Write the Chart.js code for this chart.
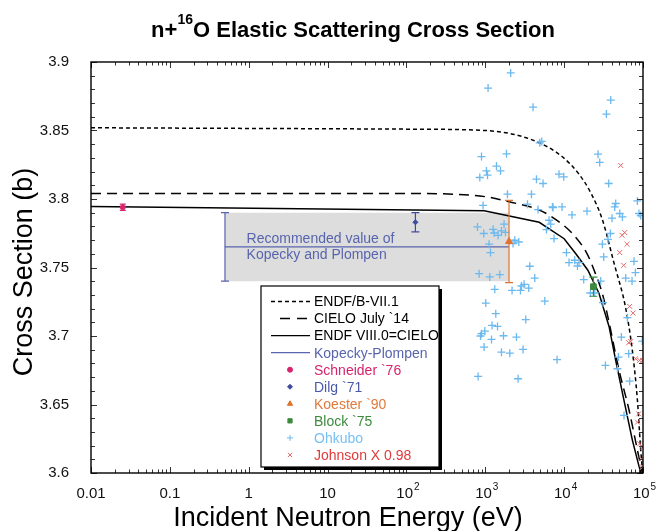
<!DOCTYPE html>
<html>
<head>
<meta charset="utf-8">
<script src="https://cdn.jsdelivr.net/npm/chart.js@4.4.0/dist/chart.umd.min.js"></script>
<style>
  html, body { margin: 0; padding: 0; background: #fff; }
  #wrap { width: 657px; height: 531px; }
</style>
</head>
<body>
<div id="wrap"><canvas id="c" width="657" height="531"></canvas></div>
<script>
const FONT = '"Liberation Sans", Arial, Helvetica, sans-serif';

// ---- DATA ----
const xTickVals  = [0.01, 0.1, 1, 10, 100, 1000, 10000, 100000];
const xTickBase  = ['0.01', '0.1', '1', '10', '10', '10', '10', '10'];
const xTickExp   = ['', '', '', '', '2', '3', '4', '5'];
const yTickVals  = [3.6, 3.65, 3.7, 3.75, 3.8, 3.85, 3.9];
const yTickLabels = ['3.6', '3.65', '3.7', '3.75', '3.8', '3.85', '3.9'];

// evaluated curves
const endf71E = [0.01, 100, 1000, 4000, 9400, 15500, 22000, 30500, 43000, 60000, 73000, 85000, 93500, 100000];
const endf71S = [3.852, 3.851, 3.850, 3.843, 3.831, 3.818, 3.804, 3.785, 3.753, 3.721, 3.690, 3.653, 3.617, 3.598];
const cieloE  = [0.01, 100, 1000, 2000, 4830, 7850, 12600, 19550, 24000, 30500, 37100, 49700, 66500, 84700, 100000];
const cieloS  = [3.804, 3.804, 3.8017, 3.798, 3.792, 3.785, 3.775, 3.760, 3.748, 3.731, 3.710, 3.675, 3.646, 3.617, 3.598];
const endf80E = [0.01, 970, 4830, 10000, 14060, 20000, 27700, 37100, 45100, 57400, 73300, 88900, 100000];
const endf80S = [3.7945, 3.7915, 3.783, 3.771, 3.760, 3.748, 3.731, 3.707, 3.682, 3.653, 3.624, 3.605, 3.595];

// Kopecky-Plompen recommended value (band)
const kpE    = [0.5, 2000];
const kpMid  = [3.765, 3.765];
const kpHigh = [3.79, 3.79];
const kpLow  = 3.74;
const kpErr  = [0.025];

// single measurements
const schneiderE = [0.0253];  const schneiderS = [3.794];  const schneiderErr = [0.0023];
const dilgE      = [130];     const dilgS      = [3.783];  const dilgErr      = [0.007];
const koesterE   = [2000];    const koesterS   = [3.769];  const koesterErr   = [0.03];
const blockE     = [23500];   const blockS     = [3.736];  const blockErr     = [0.007];

const ohkuboE = [2100, 1085, 4035, 4910, 5200, 895, 1857, 1387, 1035, 1560, 1067, 852, 4456, 5405, 1911, 3852,
  3427, 938, 4670, 7110, 6440, 6760, 5970, 1730, 796, 1256, 1604, 1803, 1294, 957, 1453, 2366, 2660, 2250, 1117,
  1164, 3664, 7450, 835, 1140, 1527, 4240, 1319, 2186, 2794, 2877, 3104, 3558, 5680, 1014, 1358, 3260, 1219, 1429,
  986, 895, 869, 1702, 1199, 2485, 966, 3013, 1604, 2045, 811, 2606, 39000, 34360, 26900, 28250, 8610, 9890, 36730,
  7230, 9400, 12590, 19500, 45080, 43750, 50700, 54800, 40450, 84900, 88950, 93500, 38600, 35980, 30560, 10700,
  31760, 11530, 13620, 15450, 14750, 76900, 17700, 29100, 21530, 24430, 31120, 80150, 60390, 72600, 63390, 53200,
  98000, 65900, 48800, 8130, 33360, 47400, 67800, 57450];
const ohkuboS = [3.892, 3.881, 3.867, 3.841, 3.842, 3.831, 3.833, 3.824, 3.8205, 3.8205, 3.8174, 3.8157, 3.8145, 3.8113, 3.8035, 3.8035,
  3.7962, 3.7953, 3.7923, 3.7942, 3.7845, 3.7816, 3.7777, 3.7816, 3.7796, 3.7779, 3.7767, 3.7757, 3.7752, 3.7748, 3.7735, 3.7699, 3.7686, 3.7675, 3.767,
  3.7609, 3.7509, 3.7711, 3.7455, 3.7431, 3.7448, 3.7423, 3.7341, 3.7333, 3.7333, 3.7365, 3.7377, 3.735, 3.7255, 3.724, 3.7163, 3.712, 3.7077, 3.707,
  3.7036, 3.7017, 3.700, 3.7002, 3.6975, 3.6992, 3.6919, 3.6902, 3.6882, 3.6875, 3.6705, 3.6688, 3.8722, 3.862, 3.8327, 3.8267, 3.8181, 3.8162, 3.8113,
  3.7938, 3.7942, 3.7884, 3.7911, 3.7967, 3.7942, 3.7894, 3.7869, 3.786, 3.7986, 3.7894, 3.7879, 3.7748, 3.7706, 3.767, 3.7609,
  3.7577, 3.7536, 3.7553, 3.7536, 3.7511, 3.7545, 3.7412, 3.7401, 3.7314, 3.7314, 3.7243, 3.7463, 3.7423, 3.7401, 3.7134, 3.6992,
  3.6963, 3.6871, 3.6846, 3.6827, 3.6785, 3.6761, 3.667, 3.642];

const johnsonE = [52150, 58600, 54200, 62700, 50700, 56900, 67800, 74650, 65900, 69800, 80750, 90800, 98500,
  88150, 84900, 90800, 98500, 95500, 99000];
const johnsonS = [3.8245, 3.7755, 3.7735, 3.767, 3.7609, 3.7516, 3.7216, 3.7167, 3.6951, 3.696, 3.6834, 3.6822, 3.6822,
  3.6432, 3.6371, 3.6213, 3.6188, 3.6103, 3.6042];

// ---- HELPERS ----
const pts = (xs, ys) => xs.map((x, i) => ({ x, y: ys[i] }));

const COL = {
  kp: '#5864ae', schneider: '#d8246c', dilg: '#3f4c9e', koester: '#e0722e',
  block: '#3d8a3d', ohkubo: '#6cb9ef', johnson: '#e46a6a', johnsonText: '#e03a3a', box: '#dcdddc'
};

const errorBars = [
  { xs: schneiderE, ys: schneiderS, err: schneiderErr, color: COL.schneider, cap: 3 },
  { xs: dilgE,      ys: dilgS,      err: dilgErr,      color: COL.dilg,      cap: 4 },
  { xs: koesterE,   ys: koesterS,   err: koesterErr,   color: COL.koester,   cap: 4 },
  { xs: blockE,     ys: blockS,     err: blockErr,     color: COL.block,     cap: 4 },
  { xs: [kpE[0]],   ys: [kpMid[0]], err: kpErr,        color: COL.kp,        cap: 4 },
];

const legendItems = [
  { label: 'ENDF/B-VII.1',      color: '#000', text: '#000', line: [4, 3], x0: 271, x1: 310 },
  { label: 'CIELO July `14',    color: '#000', text: '#000', line: [10, 7], x0: 280, x1: 307 },
  { label: 'ENDF VIII.0=CIELO', color: '#000', text: '#000', line: [], x0: 271, x1: 310 },
  { label: 'Kopecky-Plompen',   color: COL.kp, text: COL.kp, line: [], x0: 271, x1: 310, w: 1.2 },
  { label: 'Schneider `76',     color: COL.schneider, text: COL.schneider, point: 'circle', r: 2.5 },
  { label: 'Dilg `71',          color: COL.dilg, text: '#4a58aa', point: 'rectRot', r: 2.5 },
  { label: 'Koester `90',       color: COL.koester, text: '#e07a3a', point: 'triangle', r: 3 },
  { label: 'Block `75',         color: COL.block, text: COL.block, point: 'rect', r: 3 },
  { label: 'Ohkubo',            color: COL.ohkubo, text: '#78c0f2', point: 'cross', r: 3 },
  { label: 'Johnson X 0.98',    color: COL.johnson, text: COL.johnsonText, point: 'crossRot', r: 3 },
];

// ---- PLUGINS ----
const titlePlugin = {
  id: 'titlePlugin',
  afterDraw(chart) {
    const ctx = chart.ctx;
    ctx.save();
    ctx.fillStyle = '#000';
    ctx.textBaseline = 'alphabetic';
    const big = 'bold 22px ' + FONT, small = 'bold 14px ' + FONT;
    const p1 = 'n+', p2 = '16', p3 = 'O Elastic Scattering Cross Section';
    ctx.font = big; const w1 = ctx.measureText(p1).width, w3 = ctx.measureText(p3).width;
    ctx.font = small; const w2 = ctx.measureText(p2).width;
    let x = 353 - (w1 + w2 + w3) / 2;
    ctx.font = big; ctx.fillText(p1, x, 37); x += w1;
    ctx.font = small; ctx.fillText(p2, x, 24); x += w2;
    ctx.font = big; ctx.fillText(p3, x, 37);

    // axis titles
    ctx.font = '27px ' + FONT;
    ctx.textAlign = 'center';
    ctx.fillText('Incident Neutron Energy (eV)', 348, 526);
    ctx.translate(32, 272);
    ctx.rotate(-Math.PI / 2);
    ctx.fillText('Cross Section (b)', 0, 0);
    ctx.restore();
  }
};

const errorBarPlugin = {
  id: 'errorBarPlugin',
  afterDatasetsDraw(chart) {
    const { ctx, scales: { x, y } } = chart;
    ctx.save();
    ctx.lineWidth = 1.2;
    errorBars.forEach(b => {
      ctx.strokeStyle = b.color;
      b.xs.forEach((e, i) => {
        const px = x.getPixelForValue(e);
        const top = y.getPixelForValue(b.ys[i] + b.err[i]);
        const bot = y.getPixelForValue(b.ys[i] - b.err[i]);
        ctx.beginPath();
        ctx.moveTo(px, top); ctx.lineTo(px, bot);
        ctx.moveTo(px - b.cap, top); ctx.lineTo(px + b.cap, top);
        ctx.moveTo(px - b.cap, bot); ctx.lineTo(px + b.cap, bot);
        ctx.stroke();
      });
    });
    // note inside the band
    ctx.fillStyle = COL.kp;
    ctx.font = '14px ' + FONT;
    const tx = x.getPixelForValue(0.94);
    ctx.fillText('Recommended value of', tx, y.getPixelForValue(3.7677));
    ctx.fillText('Kopecky and Plompen', tx, y.getPixelForValue(3.7560));
    ctx.restore();
  }
};

const frameTicks = {
  id: 'frameTicks',
  afterDatasetsDraw(chart) {
    const { ctx, chartArea: a, scales: { x, y } } = chart;
    ctx.save();
    ctx.strokeStyle = '#333';
    ctx.lineWidth = 1;
    ctx.beginPath();
    xTickVals.forEach((v, i) => {
      const px = Math.round(x.getPixelForValue(v)) + 0.5;
      ctx.moveTo(px, a.bottom); ctx.lineTo(px, a.bottom - 6);
      ctx.moveTo(px, a.top); ctx.lineTo(px, a.top + 6);
      if (i < xTickVals.length - 1) {
        for (let m = 2; m < 10; m++) {
          const mx = Math.round(x.getPixelForValue(v * m)) + 0.5;
          ctx.moveTo(mx, a.bottom); ctx.lineTo(mx, a.bottom - 3.5);
          ctx.moveTo(mx, a.top); ctx.lineTo(mx, a.top + 3.5);
        }
      }
    });
    for (let k = 0; k <= 30; k++) {
      const v = 3.6 + k * 0.01;
      const py = Math.round(y.getPixelForValue(v)) + 0.5;
      const len = k % 5 === 0 ? 6 : 4;
      ctx.moveTo(a.left, py); ctx.lineTo(a.left + len, py);
      ctx.moveTo(a.right, py); ctx.lineTo(a.right - len, py);
    }
    ctx.stroke();
    ctx.strokeStyle = '#000';
    ctx.lineWidth = 1.4;
    ctx.strokeRect(a.left, a.top, a.right - a.left, a.bottom - a.top);

    // x tick labels with superscripts
    ctx.fillStyle = '#111';
    ctx.textBaseline = 'alphabetic';
    xTickVals.forEach((v, i) => {
      const px = x.getPixelForValue(v);
      ctx.font = '15px ' + FONT;
      const wb = ctx.measureText(xTickBase[i]).width;
      ctx.font = '10px ' + FONT;
      const we = xTickExp[i] ? ctx.measureText(xTickExp[i]).width : 0;
      const x0 = px - (wb + we) / 2 + (we ? 1 : 0);
      ctx.font = '15px ' + FONT;
      ctx.fillText(xTickBase[i], x0, a.bottom + 25);
      if (we) { ctx.font = '10px ' + FONT; ctx.fillText(xTickExp[i], x0 + wb + 1, a.bottom + 17); }
    });
    ctx.restore();
  }
};

const legendPlugin = {
  id: 'legendPlugin',
  afterDraw(chart) {
    const ctx = chart.ctx;
    const L = 261, T = 286, W = 178, H = 181;
    ctx.save();
    ctx.fillStyle = '#000';
    ctx.fillRect(L + 3, T + 3, W, H);
    ctx.fillStyle = '#fff';
    ctx.fillRect(L, T, W, H);
    ctx.strokeStyle = '#000';
    ctx.lineWidth = 1.2;
    ctx.strokeRect(L, T, W, H);
    ctx.font = '14px ' + FONT;
    ctx.textBaseline = 'middle';
    legendItems.forEach((it, i) => {
      const cy = 301.5 + i * 17.05;
      if (it.line) {
        ctx.strokeStyle = it.color;
        ctx.lineWidth = it.w || 1.4;
        ctx.setLineDash(it.line);
        ctx.beginPath(); ctx.moveTo(it.x0, cy); ctx.lineTo(it.x1, cy); ctx.stroke();
        ctx.setLineDash([]);
      } else {
        ctx.lineWidth = 1;
        ctx.fillStyle = it.color; ctx.strokeStyle = it.color;
        Chart.helpers.drawPoint(ctx, { pointStyle: it.point, radius: it.r, borderWidth: 1, rotation: 0 }, 290, cy);
      }
      ctx.fillStyle = it.text;
      ctx.fillText(it.label, 314, cy + 1);
    });
    ctx.restore();
  }
};

// ---- CHART ----
const datasets = [
  { label: 'band', data: pts(kpE, kpHigh), borderColor: 'rgba(0,0,0,0)', borderWidth: 0,
    backgroundColor: COL.box, fill: { value: kpLow }, pointRadius: 0, order: 20 },
  { label: 'Kopecky-Plompen', data: pts(kpE, kpMid), borderColor: COL.kp, borderWidth: 1.2,
    pointRadius: 0, fill: false, order: 15 },
  { label: 'ENDF/B-VII.1', data: pts(endf71E, endf71S), borderColor: '#000', borderWidth: 1.5,
    borderDash: [4, 3], pointRadius: 0, fill: false, cubicInterpolationMode: 'monotone', order: 10 },
  { label: 'CIELO July `14', data: pts(cieloE, cieloS), borderColor: '#000', borderWidth: 1.5,
    borderDash: [10, 6], pointRadius: 0, fill: false, cubicInterpolationMode: 'monotone', order: 10 },
  { label: 'ENDF VIII.0=CIELO', data: pts(endf80E, endf80S), borderColor: '#000', borderWidth: 1.5,
    pointRadius: 0, fill: false, tension: 0, order: 10 },
  { label: 'Ohkubo', data: pts(ohkuboE, ohkuboS), showLine: false, pointStyle: 'cross', pointRadius: 4,
    borderColor: COL.ohkubo, backgroundColor: COL.ohkubo, pointBorderWidth: 1.3, order: 5 },
  { label: 'Johnson X 0.98', data: pts(johnsonE, johnsonS), showLine: false, pointStyle: 'crossRot', pointRadius: 3.5,
    borderColor: COL.johnson, backgroundColor: COL.johnson, pointBorderWidth: 1, order: 5 },
  { label: 'Schneider `76', data: pts(schneiderE, schneiderS), showLine: false, pointStyle: 'circle', pointRadius: 2.5,
    borderColor: COL.schneider, backgroundColor: COL.schneider, order: 1 },
  { label: 'Dilg `71', data: pts(dilgE, dilgS), showLine: false, pointStyle: 'rectRot', pointRadius: 2.5,
    borderColor: COL.dilg, backgroundColor: COL.dilg, order: 1 },
  { label: 'Koester `90', data: pts(koesterE, koesterS), showLine: false, pointStyle: 'triangle', pointRadius: 4,
    borderColor: COL.koester, backgroundColor: COL.koester, order: 1 },
  { label: 'Block `75', data: pts(blockE, blockS), showLine: false, pointStyle: 'rect', pointRadius: 4,
    borderColor: COL.block, backgroundColor: COL.block, order: 1 },
];

new Chart(document.getElementById('c'), {
  type: 'line',
  data: { datasets },
  options: {
    responsive: false,
    animation: false,
    layout: { padding: { top: 62, right: 14, left: 0, bottom: 0 } },
    plugins: { legend: { display: false }, tooltip: { enabled: false } },
    scales: {
      x: {
        type: 'logarithmic', min: 0.01, max: 100000,
        afterBuildTicks: s => { s.ticks = xTickVals.map(v => ({ value: v })); },
        afterFit: s => { s.height = 58; },
        grid: { display: false }, border: { display: false },
        ticks: { display: false }
      },
      y: {
        type: 'linear', min: 3.6, max: 3.9,
        afterBuildTicks: s => { s.ticks = yTickVals.map(v => ({ value: v })); },
        afterFit: s => { s.width = 91; },
        grid: { display: false }, border: { display: false },
        ticks: { color: '#111', padding: 14, font: { family: FONT, size: 15 },
          callback: (v, i) => yTickLabels[i] }
      }
    }
  },
  plugins: [titlePlugin, errorBarPlugin, frameTicks, legendPlugin]
});
</script>
</body>
</html>
